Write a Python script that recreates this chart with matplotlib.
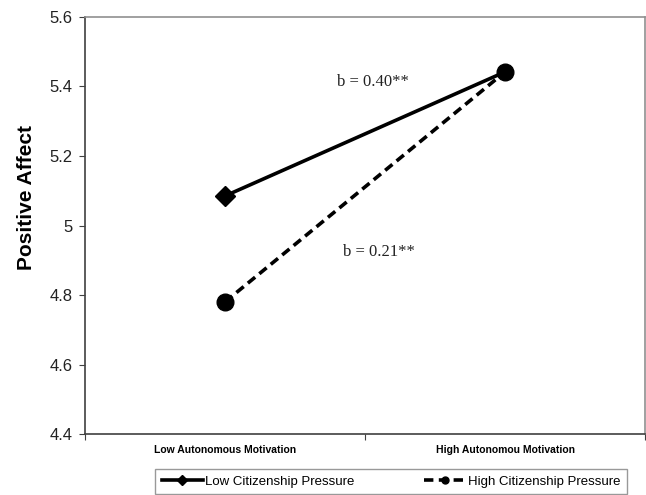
import matplotlib
matplotlib.use("Agg")
import matplotlib.pyplot as plt
from matplotlib.lines import Line2D

categories = ["Low Autonomous Motivation", "High Autonomou Motivation"]
low_pressure = [5.085, 5.442]
high_pressure = [4.78, 5.442]
series_names = ["Low Citizenship Pressure", "High Citizenship Pressure"]
y_ticks = [4.4, 4.6, 4.8, 5.0, 5.2, 5.4, 5.6]
y_tick_labels = ["4.4", "4.6", "4.8", "5", "5.2", "5.4", "5.6"]
annotations = [("b = 0.40**", 0.53, 5.413), ("b = 0.21**", 0.55, 4.924)]

plt.rcParams["font.family"] = ["Liberation Sans", "DejaVu Sans"]

fig = plt.figure(figsize=(6.46, 4.95), dpi=100)
ax = fig.add_axes([85/646, 1-434/495, 560/646, 417/495])

x = list(range(len(categories)))
ax.plot(x, low_pressure, color="black", lw=2.6, marker="D", markersize=10,
        markevery=[0], solid_capstyle="round", zorder=3)
ax.plot(x, high_pressure, color="black", lw=2.6, linestyle=(0, (2.6, 1.5)),
        marker="o", markersize=12, zorder=4)

ax.set_xlim(-0.5, 1.5)
ax.set_ylim(4.4, 5.6)
ax.set_yticks(y_ticks)
ax.set_yticklabels(y_tick_labels, fontsize=12, color="#222222")
ax.set_xticks([-0.5, 0.5, 1.5])
ax.set_xticklabels([])
ax.set_xticks(x, minor=True)
ax.set_xticklabels(categories, minor=True, fontsize=7.5, fontweight="bold")
ax.tick_params(axis="x", which="minor", length=0, pad=8)
ax.tick_params(axis="x", which="major", length=4, direction="out", color="#404040")
ax.tick_params(axis="y", length=4, direction="out", color="#404040", pad=5)

for s in ["left", "bottom"]:
    ax.spines[s].set_color("#404040")
    ax.spines[s].set_linewidth(1.2)
for s in ["top", "right"]:
    ax.spines[s].set_color("#909090")
    ax.spines[s].set_linewidth(1.2)

ax.set_ylabel("Positive Affect", fontsize=15, fontweight="bold")
ax.yaxis.set_label_coords(-0.088, 0.567)

for txt, tx, ty in annotations:
    ax.text(tx, ty, txt, fontsize=12, family=["Liberation Serif", "DejaVu Serif"],
            ha="center", va="center", color="#222222")

handles = [
    Line2D([], [], color="black", lw=2.6, marker="D", markersize=5),
    Line2D([], [], color="black", lw=2.6, linestyle=(0, (2.6, 1.5)), marker="o", markersize=5),
]
leg = fig.legend(handles, series_names, loc="upper left",
                 bbox_to_anchor=(155/646, -0.2, 472/646, 1.2 - 469/495),
                 ncol=2, mode="expand", fontsize=9.5, frameon=True, fancybox=False,
                 edgecolor="#808080", handlelength=3.1, handletextpad=0.2,
                 borderaxespad=0, borderpad=0.5)
leg.get_frame().set_linewidth(1.0)

fig.savefig("out.png", dpi=100)
